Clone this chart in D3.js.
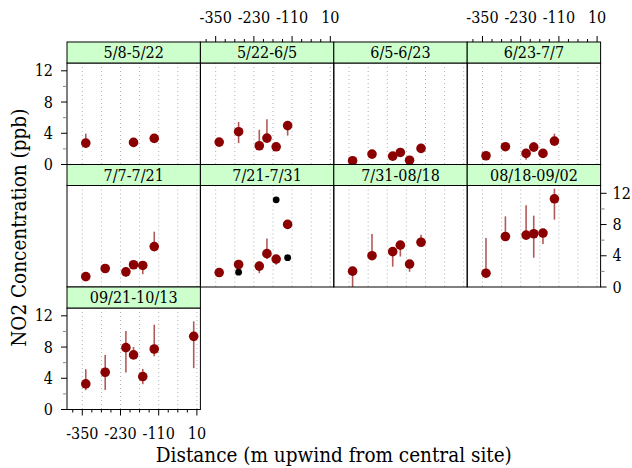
<!DOCTYPE html>
<html>
<head>
<meta charset="utf-8">
<script src="https://cdn.jsdelivr.net/npm/d3@7"></script>
<style>
  body { margin: 0; background: #fff; }
</style>
</head>
<body>
<svg id="chart" width="632" height="468" font-family="'DejaVu Serif Condensed', 'DejaVu Serif', serif"></svg>
<script>
let width = 632;
let height = 468;

// distance of each sampling site (m upwind from central site)
let distances = [-339, -278, -213, -189, -160, -124, 0];

let periods = [
  "5/8-5/22", "5/22-6/5", "6/5-6/23", "6/23-7/7",
  "7/7-7/21", "7/21-7/31", "7/31-08/18", "08/18-09/02",
  "09/21-10/13"
];

// mean NO2 (ppb) per period and site
let no2 = [
  [2.74, null, null, 2.83, null, 3.34, null],
  [2.87, 4.2, 2.4, 3.38, 2.27, 4.98, null],
  [0.48, 1.33, 1.07, 1.54, 0.55, 2.06, null],
  [1.12, 2.28, 1.42, 2.23, 1.42, 3.0, null],
  [1.33, 2.37, 1.94, 2.85, 2.76, 5.18, null],
  [1.85, 2.88, 2.68, 4.27, 3.58, 8.02, null],
  [2.03, 4.01, 4.53, 5.36, 2.94, 5.73, null],
  [1.77, 6.47, 6.65, 6.82, 6.91, 11.3, null],
  [3.28, 4.77, 7.92, 6.99, 4.22, 7.75, 9.37]
];
let no2Low = [
  [2.3, null, null, 2.3, null, 3.0, null],
  [2.5, 2.74, 2.0, 3.0, 2.0, 3.7, null],
  [0.2, 1.05, 0.8, 1.25, 0.3, 1.8, null],
  [0.9, 2.0, 0.6, 1.9, 1.2, 2.7, null],
  [1.1, 2.1, 1.3, 2.6, 1.64, 4.57, null],
  [1.5, 2.5, 1.77, 3.6, 2.85, 7.8, null],
  [-0.5, 3.67, 2.6, 3.9, 1.95, 5.4, null],
  [1.5, 6.0, 6.3, 3.75, 5.5, 8.63, null],
  [2.47, 2.5, 4.73, 6.56, 3.24, 6.82, 5.29]
];
let no2High = [
  [3.95, null, null, 3.4, null, 3.6, null],
  [3.25, 5.44, 4.46, 5.79, 2.6, 5.2, null],
  [0.7, 1.6, 1.3, 1.8, 0.8, 2.3, null],
  [1.4, 2.5, 1.8, 2.87, 1.7, 3.95, null],
  [1.6, 2.7, 2.3, 3.1, 3.0, 7.08, null],
  [2.2, 3.2, 3.27, 6.2, 3.9, 8.3, null],
  [2.38, 6.8, 4.97, 5.74, 3.3, 6.7, null],
  [6.26, 9.05, 10.48, 9.14, 7.33, 12.6, null],
  [5.16, 6.98, 10.05, 8.0, 5.2, 10.86, 11.29]
];

// second set of readings shown in black (7/21-7/31 only)
let extraPanel = 5;
let extraDist = [-278, -160, -124];
let extraNO2 = [1.9, 11.17, 3.75];

let xTicks = d3.range(-380, 11, 30);
let xLabels = [-350, -230, -110, 10];
let xGrid = [-350, -290, -230, -170, -110, -50, 10];
let yTicks = [0, 2, 4, 6, 8, 10, 12];
let yLabels = [0, 4, 8, 12];

let nCol = 4;
let gridLeft = 67;
let panelW = 133.4;
let gridTop = 42;
let stripH = 21;
let panelH = 101.5;

let xScale = d3.scaleLinear().domain([-398, 21]).range([0, panelW]);
let yScale = d3.scaleLinear().domain([0, 13]).range([panelH, 0]).clamp(true);

let svg = d3.select("#chart");

periods.forEach(function(p, i) {
  let col = i % nCol;
  let row = Math.floor(i / nCol);
  let px = gridLeft + col * panelW;
  let py = gridTop + row * (stripH + panelH);

  let g = svg.append("g").attr("transform", "translate(" + px + "," + (py + stripH) + ")");

  // strip
  svg.append("rect")
    .attr("x", px).attr("y", py)
    .attr("width", panelW).attr("height", stripH)
    .attr("fill", "#ccffcc").attr("stroke", "#000").attr("stroke-width", 1);
  svg.append("text")
    .attr("x", px + panelW / 2).attr("y", py + stripH / 2 + 5.5)
    .attr("text-anchor", "middle").attr("font-size", 16)
    .text(p);

  // dotted grid
  g.selectAll(".grid").data(xGrid).enter().append("line")
    .attr("x1", d => xScale(d)).attr("x2", d => xScale(d))
    .attr("y1", 0).attr("y2", panelH)
    .attr("stroke", "#b0b0b0").attr("stroke-width", 1)
    .attr("stroke-dasharray", "1,3");

  let pts = distances.map(function(d, j) {
    return { x: d, y: no2[i][j], lo: no2Low[i][j], hi: no2High[i][j] };
  }).filter(d => d.y !== null);

  if (i === extraPanel) {
    g.selectAll(".extra").data(extraDist).enter().append("circle")
      .attr("cx", d => xScale(d))
      .attr("cy", (d, k) => yScale(extraNO2[k]))
      .attr("r", 3.4).attr("fill", "#000");
  }

  g.selectAll(".pt").data(pts).enter().append("circle")
    .attr("cx", d => xScale(d.x)).attr("cy", d => yScale(d.y))
    .attr("r", 4.8).attr("fill", "#8b0000");

  g.selectAll(".bar").data(pts).enter().append("line")
    .attr("x1", d => xScale(d.x)).attr("x2", d => xScale(d.x))
    .attr("y1", d => yScale(d.lo)).attr("y2", d => yScale(d.hi))
    .attr("stroke", "#8b0000").attr("stroke-width", 1.6)
    .attr("stroke-opacity", 0.65);

  g.append("rect")
    .attr("width", panelW).attr("height", panelH)
    .attr("fill", "none").attr("stroke", "#000").attr("stroke-width", 1);

  // axes, alternating like lattice
  if (row === 0 && col % 2 === 1) {
    let ax = svg.append("g").attr("transform", "translate(" + px + "," + py + ")");
    xTicks.forEach(function(t) {
      let major = xLabels.indexOf(t) >= 0;
      ax.append("line")
        .attr("x1", xScale(t)).attr("x2", xScale(t))
        .attr("y1", 0).attr("y2", major ? -6 : -3)
        .attr("stroke", "#000");
    });
    ax.selectAll("text").data(xLabels).enter().append("text")
      .attr("x", d => xScale(d)).attr("y", -19)
      .attr("text-anchor", "middle").attr("font-size", 16)
      .text(d => d);
  }
  if (i === periods.length - 1) {
    let ax = svg.append("g").attr("transform", "translate(" + px + "," + (py + stripH + panelH) + ")");
    xTicks.forEach(function(t) {
      let major = xLabels.indexOf(t) >= 0;
      ax.append("line")
        .attr("x1", xScale(t)).attr("x2", xScale(t))
        .attr("y1", 0).attr("y2", major ? 6 : 3)
        .attr("stroke", "#000");
    });
    ax.selectAll("text").data(xLabels).enter().append("text")
      .attr("x", d => xScale(d)).attr("y", 29)
      .attr("text-anchor", "middle").attr("font-size", 16)
      .text(d => d);
  }
  if (col === 0 && row % 2 === 0) {
    let ay = svg.append("g").attr("transform", "translate(" + px + "," + (py + stripH) + ")");
    yTicks.forEach(function(t) {
      let major = yLabels.indexOf(t) >= 0;
      ay.append("line")
        .attr("x1", 0).attr("x2", major ? -6 : -4)
        .attr("y1", yScale(t)).attr("y2", yScale(t))
        .attr("stroke", major ? "#000" : "#888");
    });
    ay.selectAll("text").data(yLabels).enter().append("text")
      .attr("x", -14).attr("y", d => yScale(d) + 5.5)
      .attr("text-anchor", "end").attr("font-size", 16)
      .text(d => d);
  }
  if (row === 1 && col === nCol - 1) {
    let ay = svg.append("g").attr("transform", "translate(" + (px + panelW) + "," + (py + stripH) + ")");
    yTicks.forEach(function(t) {
      let major = yLabels.indexOf(t) >= 0;
      ay.append("line")
        .attr("x1", 0).attr("x2", major ? 6 : 4)
        .attr("y1", yScale(t)).attr("y2", yScale(t))
        .attr("stroke", major ? "#000" : "#888");
    });
    ay.selectAll("text").data(yLabels).enter().append("text")
      .attr("x", 12).attr("y", d => yScale(d) + 5.5)
      .attr("text-anchor", "start").attr("font-size", 16)
      .text(d => d);
  }
});

svg.append("text")
  .attr("x", gridLeft + nCol * panelW / 2).attr("y", 462)
  .attr("text-anchor", "middle").attr("font-size", 20.5)
  .text("Distance (m upwind from central site)");

svg.append("text")
  .attr("transform", "translate(26," + (gridTop + 1.5 * (stripH + panelH) + 2) + ") rotate(-90)")
  .attr("text-anchor", "middle").attr("font-size", 20.5)
  .text("NO2 Concentration (ppb)");
</script>
</body>
</html>
